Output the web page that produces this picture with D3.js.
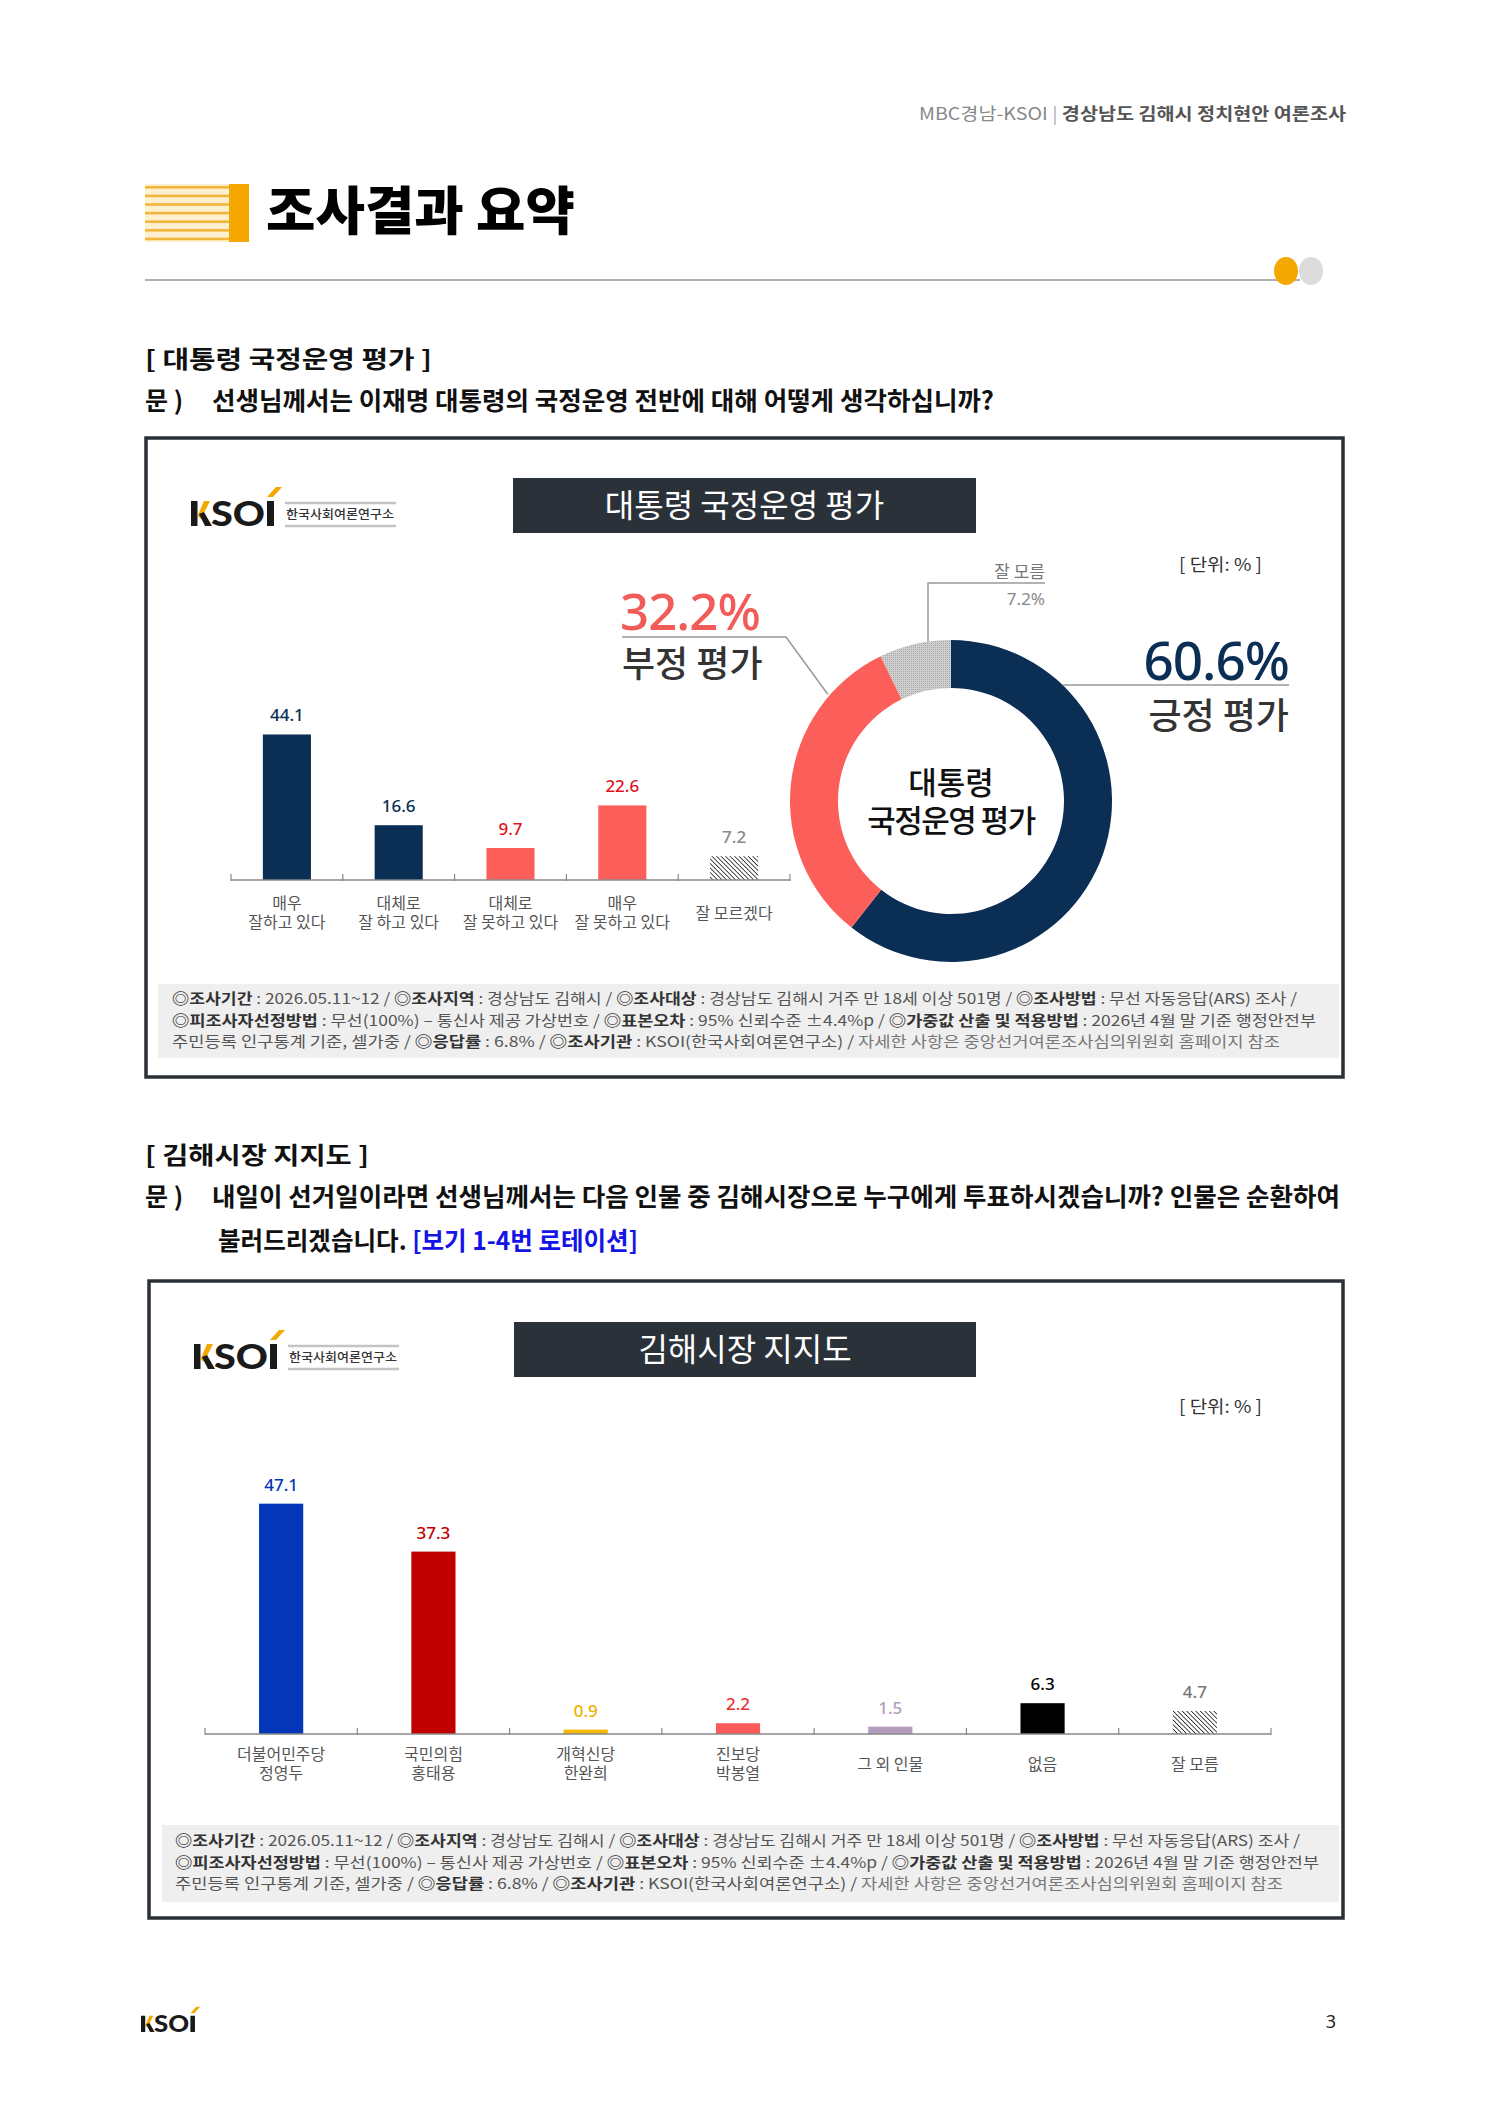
<!DOCTYPE html>
<html><head><meta charset="utf-8">
<script src="https://cdn.jsdelivr.net/npm/d3@7"></script>
<style>body{margin:0;background:#fff}svg{display:block}</style>
</head><body><svg id="c" width="1488" height="2105"></svg>
<script>
// ---------- DATA ----------
const approvalCategories = [["매우","잘하고 있다"],["대체로","잘 하고 있다"],["대체로","잘 못하고 있다"],["매우","잘 못하고 있다"],["잘 모르겠다"]];
const approvalValues = [44.1,16.6,9.7,22.6,7.2];
const donutLabels = ["긍정 평가","부정 평가","잘 모름"];
const donutValues = [60.6,32.2,7.2];
const mayorCategories = [["더불어민주당","정영두"],["국민의힘","홍태용"],["개혁신당","한완희"],["진보당","박봉열"],["그 외 인물"],["없음"],["잘 모름"]];
const mayorValues = [47.1,37.3,0.9,2.2,1.5,6.3,4.7];
const footnoteLines = [
  [["◎조사기간","b"],[" : 2026.05.11~12 / ","n"],["◎조사지역","b"],[" : 경상남도 김해시 / ","n"],["◎조사대상","b"],[" : 경상남도 김해시 거주 만 18세 이상 501명 / ","n"],["◎조사방법","b"],[" : 무선 자동응답(ARS) 조사 /","n"]],
  [["◎피조사자선정방법","b"],[" : 무선(100%) – 통신사 제공 가상번호 / ","n"],["◎표본오차","b"],[" : 95% 신뢰수준 ±4.4%p / ","n"],["◎가중값 산출 및 적용방법","b"],[" : 2026년 4월 말 기준 행정안전부","n"]],
  [["주민등록 인구통계 기준, 셀가중 / ","n"],["◎응답률","b"],[" : 6.8% / ","n"],["◎조사기관","b"],[" : KSOI(한국사회여론연구소) / ","n"],["자세한 사항은 중앙선거여론조사심의위원회 홈페이지 참조","g"]]
];
// ---------- STYLE ----------
const approvalColors = ["#0b2e55","#0b2e55","#fc5f5a","#fc5f5a","hatch"];
const approvalLabelColors = ["#0b2e55","#0b2e55","#e0141e","#e0141e","#888"];
const donutColors = ["#0b2e55","#fc5f5a","#c4c4c4"];
const mayorColors = ["#0337b8","#c00000","#f5b800","#ff5a5a","#b39cbd","#000000","hatch"];
const mayorLabelColors = ["#0337b8","#c00000","#f0b000","#e83030","#b39cbd","#000000","#777"];
const KR = "'Noto Sans CJK KR','Noto Sans',sans-serif";
const NUM = "'Noto Sans','Noto Sans CJK KR',sans-serif";

const svg = d3.select("#c");
svg.append("rect").attr("width",1488).attr("height",2105).attr("fill","#fff");
const defs = svg.append("defs");
const pat = defs.append("pattern").attr("id","hatch").attr("patternUnits","userSpaceOnUse")
  .attr("width",3.2).attr("height",3.2).attr("patternTransform","rotate(-45)");
pat.append("rect").attr("width",3.2).attr("height",3.2).attr("fill","#fff");
pat.append("line").attr("x1",0).attr("y1",0).attr("x2",0).attr("y2",3.2).attr("stroke","#222").attr("stroke-width",1.6);
const dots = defs.append("pattern").attr("id","dots").attr("patternUnits","userSpaceOnUse").attr("width",2).attr("height",2);
dots.append("rect").attr("width",2).attr("height",2).attr("fill","#cfcfcf");
dots.append("rect").attr("width",1).attr("height",1).attr("fill","#a9a9a9");
const fillOf = c => c === "hatch" ? "url(#hatch)" : c;

// ---------- PAGE HEADER ----------
const hdr = svg.append("text").attr("x",919).attr("y",120)
  .attr("font-family",KR).attr("font-size",17).attr("textLength",427).attr("lengthAdjust","spacingAndGlyphs");
hdr.append("tspan").attr("fill","#888").text("MBC경남-KSOI");
hdr.append("tspan").attr("fill","#aaa").text(" | ");
hdr.append("tspan").attr("fill","#555").attr("font-weight",700).text("경상남도 김해시 정치현안 여론조사");

// title icon
const ic = svg.append("g");
ic.append("rect").attr("x",145).attr("y",184).attr("width",85).attr("height",58).attr("fill","#fdf0cf");
d3.range(7).forEach(i => ic.append("rect").attr("x",145).attr("y",186+i*8.6).attr("width",85).attr("height",2.6).attr("fill","#f2b73a"));
ic.append("rect").attr("x",229).attr("y",184).attr("width",20).attr("height",58).attr("fill","#f5a800");
svg.append("text").attr("x",266).attr("y",230).attr("font-family",KR).attr("font-weight",900)
  .attr("font-size",52).attr("fill","#000").attr("textLength",309).attr("lengthAdjust","spacingAndGlyphs").text("조사결과 요약");
svg.append("line").attr("x1",145).attr("x2",1300).attr("y1",280).attr("y2",280).attr("stroke","#b0b0b0").attr("stroke-width",2);
svg.append("ellipse").attr("cx",1311).attr("cy",271).attr("rx",12).attr("ry",14).attr("fill","#dcdcdc");
svg.append("ellipse").attr("cx",1286).attr("cy",271).attr("rx",12).attr("ry",14).attr("fill","#f5a800");

// ---------- helpers ----------
function sectionHead(y, label, labelLen, q1, q1len, q2){
  svg.append("text").attr("x",145).attr("y",y).attr("font-family",KR).attr("font-weight",700)
    .attr("font-size",24).attr("fill","#111").attr("textLength",labelLen).attr("lengthAdjust","spacingAndGlyphs").text(label);
  svg.append("text").attr("x",145).attr("y",y+42).attr("font-family",KR).attr("font-weight",700)
    .attr("font-size",25).attr("fill","#111").text("문 )");
  svg.append("text").attr("x",212).attr("y",y+42).attr("font-family",KR).attr("font-weight",700)
    .attr("font-size",25).attr("fill","#111").attr("textLength",q1len).attr("lengthAdjust","spacingAndGlyphs").text(q1);
  if(q2){
    const t = svg.append("text").attr("x",218).attr("y",y+86).attr("font-family",KR).attr("font-weight",700)
      .attr("font-size",25).attr("textLength",420).attr("lengthAdjust","spacingAndGlyphs");
    t.append("tspan").attr("fill","#111").text(q2[0]);
    t.append("tspan").attr("fill","#1414e6").text(q2[1]);
  }
}
function logo(x, y, s, withName){
  const g = svg.append("g").attr("transform",`translate(${x},${y}) scale(${s})`);
  g.append("rect").attr("x",0).attr("y",-25).attr("width",6.5).attr("height",25).attr("fill","#1a1a1a");
  g.append("path").attr("d","M6.5,-10 L13,-25 L19,-25 L10,-7 Z").attr("fill","#f5a800");
  g.append("path").attr("d","M8,-12 L13,-14 L21,0 L14,0 Z").attr("fill","#1a1a1a");
  g.append("text").attr("x",20).attr("y",0).attr("font-family","Lato,'Noto Sans',sans-serif").attr("font-weight",900)
    .attr("font-size",35).attr("fill","#1a1a1a").attr("textLength",54).attr("lengthAdjust","spacingAndGlyphs").text("SO");
  g.append("rect").attr("x",76).attr("y",-25).attr("width",7).attr("height",25).attr("fill","#1a1a1a");
  g.append("path").attr("d","M76,-29 L85,-39 L91,-39 L82,-29 Z").attr("fill","#f5a800");
  if(withName){
    g.append("line").attr("x1",94).attr("x2",205).attr("y1",-23).attr("y2",-23).attr("stroke","#c4c4c4").attr("stroke-width",2.5);
    g.append("line").attr("x1",94).attr("x2",205).attr("y1",0).attr("y2",0).attr("stroke","#c4c4c4").attr("stroke-width",2.5);
    g.append("text").attr("x",95).attr("y",-7).attr("font-family",KR).attr("font-size",12.5).attr("font-weight",500)
      .attr("fill","#333").attr("textLength",108).attr("lengthAdjust","spacingAndGlyphs").text("한국사회여론연구소");
  }
  return g;
}
function chartBox(x,y,w,h){
  svg.append("rect").attr("x",x).attr("y",y).attr("width",w).attr("height",h).attr("fill","#fff")
    .attr("stroke","#2b2f36").attr("stroke-width",3.5);
}
function chartHeader(bx, by, title, titleBox){
  logo(bx, by, 1, true);
  svg.append("rect").attr("x",titleBox[0]).attr("y",titleBox[1]).attr("width",titleBox[2]).attr("height",titleBox[3]).attr("fill","#2a3139");
  svg.append("text").attr("x",titleBox[0]+titleBox[2]/2).attr("y",titleBox[1]+titleBox[3]/2+11).attr("text-anchor","middle")
    .attr("font-family",KR).attr("font-size",32).attr("fill","#fff").text(title);
}
function unitLabel(x,y){
  svg.append("text").attr("x",x).attr("y",y).attr("font-family",KR).attr("font-size",17).attr("fill","#333")
    .attr("textLength",83).attr("lengthAdjust","spacingAndGlyphs").text("[ 단위: % ]");
}
function footnote(x, y, w, h, tx, ty){
  svg.append("rect").attr("x",x).attr("y",y).attr("width",w).attr("height",h).attr("fill","#efefef");
  const lens = [1125, 1144, 1108];
  footnoteLines.forEach((line,i)=>{
    const t = svg.append("text").attr("x",tx).attr("y",ty+i*21.5).attr("font-family",KR).attr("font-size",15)
      .attr("textLength",lens[i]).attr("lengthAdjust","spacingAndGlyphs");
    line.forEach(([s,k])=>{
      t.append("tspan").attr("font-weight",k==="b"?700:400).attr("fill",k==="b"?"#333":k==="g"?"#777":"#555").text(s);
    });
  });
}
function barChart(cats, vals, colors, lcolors, x0, x1, base, perUnit, padding, catY, lineGap){
  const x = d3.scaleBand().domain(d3.range(cats.length)).range([x0,x1]).paddingInner(padding).paddingOuter(padding/2);
  const y = d3.scaleLinear().domain([0,50]).range([base, base-50*perUnit]);
  const g = svg.append("g");
  g.selectAll("rect.bar").data(vals).join("rect").attr("class","bar")
    .attr("x",(d,i)=>x(i)).attr("width",x.bandwidth())
    .attr("y",d=>y(d)).attr("height",d=>y(0)-y(d)).attr("fill",(d,i)=>fillOf(colors[i]));
  g.selectAll("text.val").data(vals).join("text").attr("class","val")
    .attr("x",(d,i)=>x(i)+x.bandwidth()/2).attr("y",d=>y(d)-13).attr("text-anchor","middle")
    .attr("font-family",NUM).attr("font-weight",500).attr("font-size",17).attr("fill",(d,i)=>lcolors[i])
    .text(d=>d.toFixed(1));
  const ax = g.append("g").attr("transform",`translate(0,${base})`);
  ax.append("line").attr("x1",x0).attr("x2",x1).attr("stroke","#888").attr("stroke-width",1.5);
  d3.range(cats.length+1).forEach(i=>{
    const xx = x0 + i*x.step();
    ax.append("line").attr("x1",xx).attr("x2",xx).attr("y1",-6).attr("y2",1).attr("stroke","#888").attr("stroke-width",1.2);
  });
  cats.forEach((c,i)=>{
    const cx = x(i)+x.bandwidth()/2;
    if(c.length===1){
      g.append("text").attr("x",cx).attr("y",catY+lineGap/2).attr("text-anchor","middle").attr("font-family",KR).attr("font-size",16).attr("fill","#555").text(c[0]);
    } else c.forEach((s,j)=>{
      g.append("text").attr("x",cx).attr("y",catY+j*lineGap).attr("text-anchor","middle").attr("font-family",KR).attr("font-size",16).attr("fill","#555").text(s);
    });
  });
}

// ---------- SECTION 1 ----------
sectionHead(368, "[ 대통령 국정운영 평가 ]", 287, "선생님께서는 이재명 대통령의 국정운영 전반에 대해 어떻게 생각하십니까?", 782);
chartBox(146,438,1197,639);
chartHeader(191, 526, "대통령 국정운영 평가", [513,478,463,55]);
unitLabel(1179,571);
barChart(approvalCategories, approvalValues, approvalColors, approvalLabelColors, 231, 790, 880, 3.3, 0.57, 909, 19);

// donut
const cx = 951, cy = 801, rOut = 161, rIn = 113;
const pie = d3.pie().sort(null).value(d=>d).startAngle(0).endAngle(2*Math.PI);
const arcs = pie(donutValues);
const arc = d3.arc().innerRadius(rIn).outerRadius(rOut);
const dg = svg.append("g").attr("transform",`translate(${cx},${cy})`);
dg.selectAll("path").data(arcs).join("path").attr("d",arc)
  .attr("fill",(d,i)=> i===2 ? "url(#dots)" : donutColors[i]);
dg.append("text").attr("y",-7).attr("text-anchor","middle").attr("font-family",KR).attr("font-weight",500).attr("font-size",31).attr("fill","#111").text("대통령");
dg.append("text").attr("y",31).attr("text-anchor","middle").attr("font-family",KR).attr("font-weight",500).attr("font-size",31).attr("fill","#111").attr("letter-spacing",-1.5).text("국정운영 평가");
const pt = (a, r) => [cx + r*Math.sin(a), cy - r*Math.cos(a)];
const aNeg = arcs[1].startAngle + 0.8*(arcs[1].endAngle-arcs[1].startAngle);
const pNeg = pt(aNeg, rOut+2);
svg.append("polyline").attr("points",`622,637 786,637 ${pNeg[0]},${pNeg[1]}`).attr("fill","none").attr("stroke","#999").attr("stroke-width",1.5);
svg.append("text").attr("x",620).attr("y",630).attr("font-family",NUM).attr("font-weight",500).attr("font-size",51).attr("fill","#f25c58").attr("letter-spacing",-1).text(donutValues[1].toFixed(1)+"%");
svg.append("text").attr("x",622).attr("y",677).attr("font-family",KR).attr("font-weight",500).attr("font-size",36).attr("fill","#333").text(donutLabels[1]);
const aPos = Math.acos((cy-685)/rOut);
const pPos = pt(aPos, rOut);
svg.append("polyline").attr("points",`${pPos[0]},685 1289,685`).attr("fill","none").attr("stroke","#999").attr("stroke-width",1.5);
svg.append("text").attr("x",1289).attr("y",680).attr("text-anchor","end").attr("font-family",NUM).attr("font-weight",500).attr("font-size",53).attr("fill","#0b2e55").attr("letter-spacing",-1).text(donutValues[0].toFixed(1)+"%");
svg.append("text").attr("x",1289).attr("y",729).attr("text-anchor","end").attr("font-family",KR).attr("font-weight",500).attr("font-size",36).attr("fill","#333").text(donutLabels[0]);
const aUnk = 2*Math.PI - Math.asin((cx-928)/rOut);
const pUnk = pt(aUnk, rOut);
svg.append("polyline").attr("points",`928,${pUnk[1]} 928,583 1045,583`).attr("fill","none").attr("stroke","#999").attr("stroke-width",1.5);
svg.append("text").attr("x",1045).attr("y",578).attr("text-anchor","end").attr("font-family",KR).attr("font-size",17).attr("fill","#777").text(donutLabels[2]);
svg.append("text").attr("x",1045).attr("y",605).attr("text-anchor","end").attr("font-family",NUM).attr("font-size",17).attr("fill","#888").text(donutValues[2].toFixed(1)+"%");

footnote(158, 984, 1181, 74, 172, 1004);

// ---------- SECTION 2 ----------
sectionHead(1164, "[ 김해시장 지지도 ]", 224, "내일이 선거일이라면 선생님께서는 다음 인물 중 김해시장으로 누구에게 투표하시겠습니까? 인물은 순환하여", 1128, ["불러드리겠습니다. ","[보기 1-4번 로테이션]"]);
chartBox(149,1281,1194,637);
chartHeader(194, 1369, "김해시장 지지도", [514,1322,462,55]);
unitLabel(1179,1413);
barChart(mayorCategories, mayorValues, mayorColors, mayorLabelColors, 205, 1271, 1734, 4.89, 0.71, 1760, 19);
footnote(162, 1825, 1177, 77, 175, 1846);

// ---------- FOOTER ----------
logo(141, 2032, 0.65, false);
svg.append("text").attr("x",1336).attr("y",2028).attr("text-anchor","end").attr("font-family",NUM).attr("font-size",18).attr("fill","#222").text("3");
</script></body></html>
